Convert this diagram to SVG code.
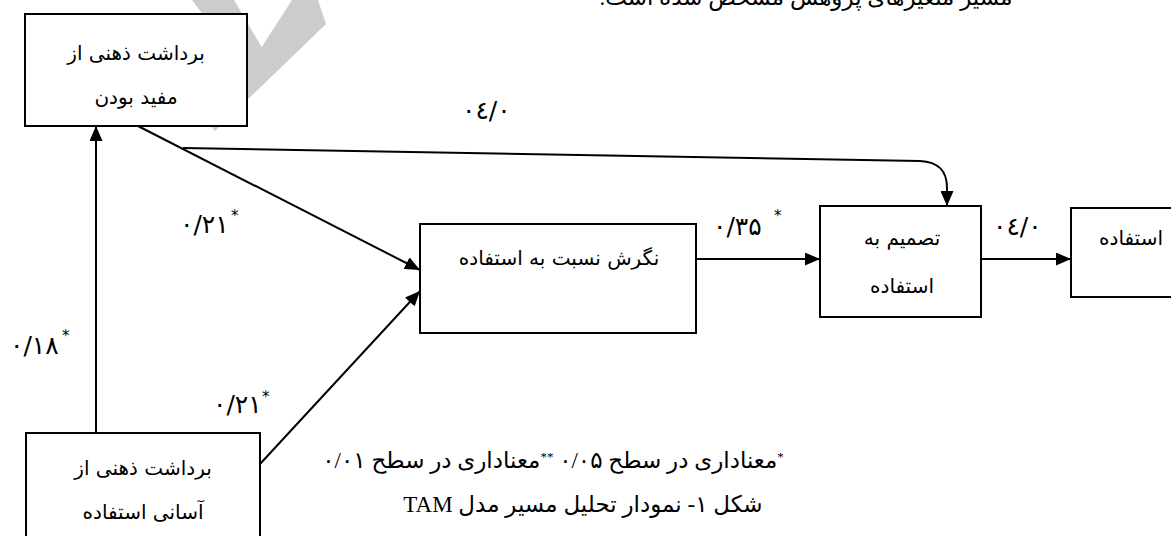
<svg xmlns="http://www.w3.org/2000/svg" width="1171" height="536" viewBox="0 0 1171 536">
<style>
.box{fill:#fff;stroke:#000;stroke-width:2}
.bt{font-family:"DejaVu Sans","Noto Sans",sans-serif;font-size:20px;fill:#000}
.num{font-family:"DejaVu Sans","Noto Sans",sans-serif;font-size:25px;fill:#000}
.star{font-family:"DejaVu Sans",sans-serif;font-size:15px;fill:#000}
.cap{font-family:"Liberation Serif","DejaVu Sans",serif;font-size:23px;fill:#000}
.ln{fill:none;stroke:#000;stroke-width:2}
</style>
<defs>
<marker id="ah" markerWidth="15" markerHeight="13" refX="15" refY="6.5" orient="auto" markerUnits="userSpaceOnUse">
<path d="M0,0 L15,6.5 L0,13 Z" fill="#000"/>
</marker>
</defs>
<rect width="1171" height="536" fill="#fff"/>
<text class="cap" x="806" y="5" direction="rtl" text-anchor="middle" font-size="25">مسیر متغیرهای پژوهش مشخص شده است.</text>
<g id="watermark" fill="#cccccc">
<polygon points="192,0 234,0 268,58 258,85 250,78"/>
<polygon points="292,0 318,0 326,24 215,131 211,126"/>
</g>
<g id="connectors">
<line class="ln" x1="96" y1="433" x2="96" y2="126" marker-end="url(#ah)"/>
<line class="ln" x1="138" y1="126" x2="420" y2="270" marker-end="url(#ah)"/>
<line class="ln" x1="260" y1="464" x2="420" y2="291" marker-end="url(#ah)"/>
<line class="ln" x1="696" y1="259" x2="820" y2="259" marker-end="url(#ah)"/>
<line class="ln" x1="981" y1="259" x2="1071" y2="259" marker-end="url(#ah)"/>
<path class="ln" d="M183,148 L920,161 C938,162 947,170 947,188 L947,206" marker-end="url(#ah)"/>
</g>
<g id="n1">
<rect class="box" x="25" y="14" width="222" height="112"/>
<text class="bt" x="136" y="60" direction="rtl" text-anchor="middle">برداشت ذهنی از</text>
<text class="bt" x="136" y="104" direction="rtl" text-anchor="middle">مفید بودن</text>
</g>
<g id="n2">
<rect class="box" x="420" y="224" width="276" height="109"/>
<text class="bt" x="559" y="265" direction="rtl" text-anchor="middle">نگرش نسبت به استفاده</text>
</g>
<g id="n3">
<rect class="box" x="26" y="433" width="234" height="120"/>
<text class="bt" x="143" y="475" direction="rtl" text-anchor="middle">برداشت ذهنی از</text>
<text class="bt" x="143" y="519" direction="rtl" text-anchor="middle">آسانی استفاده</text>
</g>
<g id="n4">
<rect class="box" x="820" y="206" width="161" height="111"/>
<text class="bt" x="902" y="245" direction="rtl" text-anchor="middle">تصمیم به</text>
<text class="bt" x="902" y="293" direction="rtl" text-anchor="middle">استفاده</text>
</g>
<g id="n5">
<rect class="box" x="1071" y="208" width="120" height="89"/>
<text class="bt" x="1131" y="245" direction="rtl" text-anchor="middle">استفاده</text>
</g>
<g id="labels">
<text class="num" x="462" y="119" direction="ltr" unicode-bidi="bidi-override">۰٤/۰</text>
<text class="num" x="180" y="233" direction="ltr" unicode-bidi="bidi-override">۰/۲۱</text>
<text class="star" x="231" y="221">*</text>
<text class="num" x="713" y="235" direction="ltr" unicode-bidi="bidi-override">۰/۳۵</text>
<text class="star" x="774" y="221">*</text>
<text class="num" x="993" y="235" direction="ltr" unicode-bidi="bidi-override">۰٤/۰</text>
<text class="num" x="10" y="354" direction="ltr" unicode-bidi="bidi-override">۰/۱۸</text>
<text class="star" x="62" y="341">*</text>
<text class="num" x="213" y="413" direction="ltr" unicode-bidi="bidi-override">۰/۲۱</text>
<text class="star" x="262" y="402">*</text>
</g>
<g id="caption">
<text class="cap" x="553" y="468" direction="rtl" text-anchor="middle"><tspan font-size="13" baseline-shift="super">*</tspan>معناداری در سطح ۰/۰۵ <tspan font-size="13" baseline-shift="super">**</tspan>معناداری در سطح ۰/۰۱</text>
<text class="cap" x="583" y="512" direction="rtl" text-anchor="middle">شکل ۱- نمودار تحلیل مسیر مدل TAM</text>
</g>
</svg>
